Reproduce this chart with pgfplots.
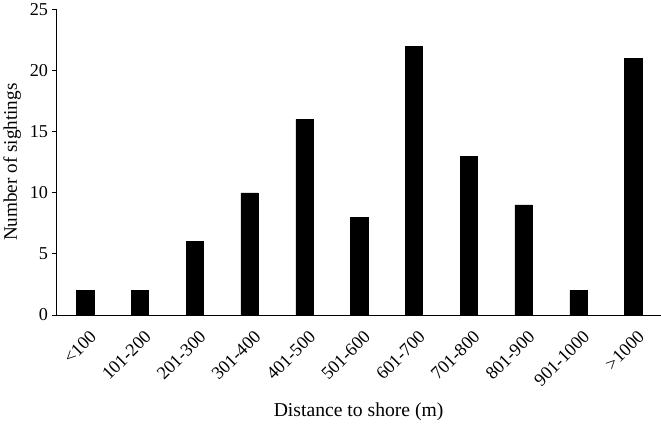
\documentclass[border=0pt]{standalone}
\usepackage{pgfplots}
\pgfplotsset{compat=1.18}
\usepackage{fontspec}
\setmainfont{Liberation Serif}
\begin{document}
\begin{tikzpicture}
\begin{axis}[
  scale only axis,
  width=597bp, height=302bp,
  ybar, bar width=17bp,
  bar shift=0pt,
  xmin=-0.52, xmax=10.5,
  ymin=0, ymax=25,
  ytick={0,5,...,25},
  xtick={0,...,10},
  xticklabels={{<100},{101-200},{201-300},{301-400},{401-500},{501-600},{601-700},{701-800},{801-900},{901-1000},{>1000}},
  x tick label style={rotate=45, anchor=north east, inner sep=1pt, font=\fontsize{18}{21}\selectfont, yshift=-8bp, xshift=-3bp},
  y tick label style={font=\fontsize{18}{21}\selectfont},
  /pgf/number format/assume math mode=true,
  axis x line*=bottom, axis y line*=left,
  major x tick style={draw=none},
  y tick style={black, line width=0.8pt},
  tick align=outside, major tick length=5bp,
  axis line style={line width=0.8pt},
  xlabel={Distance to shore (m)},
  ylabel={Number of sightings},
  xlabel style={font=\fontsize{19.5}{22}\selectfont, yshift=-10bp},
  ylabel style={font=\fontsize{19}{22}\selectfont, yshift=2bp},
]
\addplot[fill=black, draw=black] coordinates {(0,2) (1,2) (2,6) (3,10) (4,16) (5,8) (6,22) (7,13) (8,9) (9,2) (10,21)};
\end{axis}
\end{tikzpicture}
\end{document}
